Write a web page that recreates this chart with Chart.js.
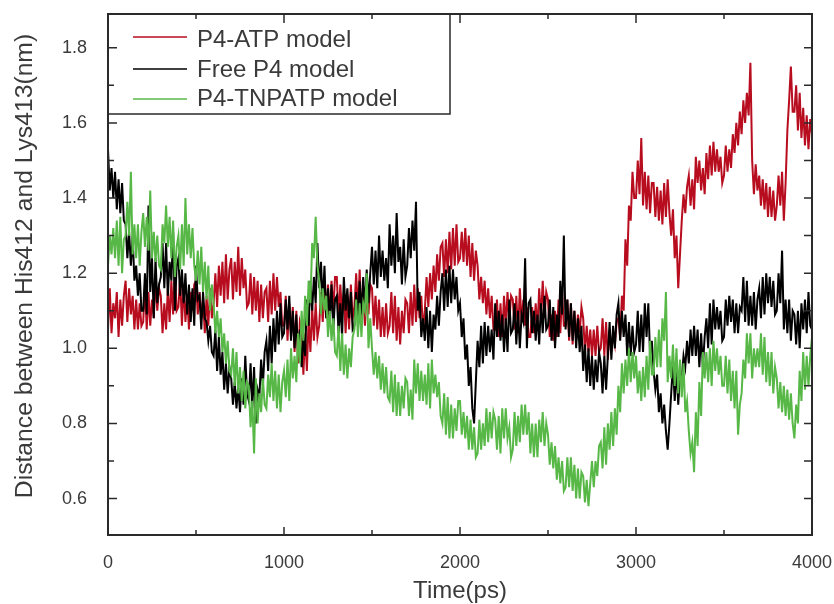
<!DOCTYPE html>
<html>
<head>
<meta charset="utf-8">
<script src="https://cdn.jsdelivr.net/npm/chart.js@4.4.0/dist/chart.umd.min.js"></script>
<style>
html,body{margin:0;padding:0;background:#fff;}
#wrap{width:834px;height:604px;position:relative;}
</style>
</head>
<body>
<div id="wrap"><canvas id="c" width="834" height="604"></canvas></div>
<script>
// ---- data (sampled every 10 ps, 0..4000 ps) ----
const timeStepPs = 10;
const seriesLabels = ['P4-ATP model', 'Free P4 model', 'P4-TNPATP model'];
const seriesColors = ['#b80d1f', '#000000', '#58b847'];

const p4AtpValues = [
1.05,1.16,1.04,1.12,1.08,1.15,1.03,1.13,1.06,1.14,
1.18,1.07,1.16,1.09,1.14,1.05,1.13,1.05,1.12,1.06,
1.07,1.17,1.05,1.15,1.06,1.13,1.08,1.19,1.10,1.16,
1.14,1.04,1.12,1.05,1.16,1.07,1.18,1.09,1.21,1.10,
1.11,1.19,1.06,1.17,1.07,1.14,1.05,1.15,1.10,1.17,
1.18,1.09,1.15,1.08,1.13,1.04,1.14,1.06,1.16,1.08,
1.12,1.20,1.11,1.22,1.14,1.23,1.12,1.25,1.13,1.21,
1.24,1.13,1.23,1.15,1.27,1.14,1.24,1.16,1.21,1.11,
1.12,1.20,1.09,1.19,1.10,1.18,1.07,1.17,1.08,1.15,
1.16,1.07,1.18,1.09,1.20,1.10,1.19,1.11,1.15,1.06,
1.06,1.14,1.02,1.12,1.03,1.11,0.99,1.10,0.96,1.07,
1.05,0.93,1.04,0.94,1.08,0.99,1.11,1.02,1.12,1.03,
1.06,1.15,1.07,1.16,1.08,1.17,1.08,1.18,1.10,1.19,
1.19,1.08,1.17,1.09,1.15,1.04,1.14,1.05,1.17,1.08,
1.11,1.20,1.10,1.21,1.07,1.16,1.06,1.15,1.09,1.17,
1.16,1.06,1.14,1.05,1.13,1.03,1.11,1.03,1.12,1.04,
1.06,1.15,1.04,1.14,1.02,1.11,1.01,1.10,1.04,1.13,
1.12,1.04,1.15,1.06,1.17,1.07,1.16,1.08,1.14,1.05,
1.10,1.19,1.11,1.20,1.13,1.22,1.15,1.25,1.18,1.27,
1.28,1.19,1.29,1.20,1.31,1.21,1.32,1.22,1.33,1.23,
1.24,1.31,1.23,1.32,1.22,1.30,1.19,1.28,1.18,1.26,
1.22,1.13,1.19,1.12,1.18,1.09,1.16,1.08,1.14,1.05,
1.05,1.13,1.03,1.12,1.03,1.14,1.06,1.15,1.07,1.14,
1.13,1.05,1.14,1.04,1.16,1.07,1.13,1.06,1.11,1.03,
1.03,1.11,1.04,1.12,1.05,1.16,1.08,1.18,1.08,1.15,
1.13,1.03,1.09,1.02,1.10,1.03,1.13,1.04,1.15,1.06,
1.06,1.13,1.02,1.12,1.01,1.10,1.02,1.09,1.04,1.11,
1.08,0.99,1.06,0.99,1.05,0.98,1.05,0.98,1.06,0.99,
1.00,1.08,0.98,1.07,0.97,1.05,0.99,1.04,1.01,1.07,
1.08,1.03,1.14,1.10,1.29,1.22,1.38,1.34,1.47,1.40,
1.40,1.50,1.41,1.56,1.38,1.47,1.37,1.46,1.36,1.44,
1.44,1.35,1.43,1.34,1.42,1.33,1.44,1.35,1.45,1.36,
1.30,1.37,1.24,1.30,1.16,1.25,1.34,1.41,1.36,1.43,
1.46,1.38,1.45,1.37,1.51,1.44,1.50,1.42,1.48,1.41,
1.52,1.45,1.54,1.46,1.55,1.47,1.53,1.47,1.51,1.44,
1.46,1.54,1.47,1.53,1.48,1.57,1.52,1.60,1.54,1.63,
1.57,1.66,1.60,1.68,1.62,1.76,1.50,1.41,1.49,1.42,
1.46,1.38,1.45,1.37,1.44,1.35,1.43,1.35,1.42,1.34,
1.38,1.46,1.38,1.47,1.34,1.44,1.58,1.66,1.75,1.63,
1.63,1.70,1.58,1.68,1.56,1.64,1.54,1.62,1.53,1.61,
1.57];

const freeP4Values = [
1.53,1.42,1.48,1.40,1.47,1.37,1.45,1.36,1.44,1.34,
1.33,1.24,1.31,1.22,1.30,1.18,1.22,1.14,1.20,1.10,
1.10,1.20,1.09,1.38,1.15,1.24,1.08,1.24,1.12,1.17,
1.19,1.28,1.16,1.28,1.14,1.23,1.18,1.31,1.10,1.22,
1.24,1.14,1.21,1.12,1.20,1.09,1.17,1.07,1.16,1.06,
1.22,1.13,1.14,1.05,1.15,1.08,1.07,1.02,1.06,0.99,
0.98,1.05,0.94,1.03,0.93,0.99,0.89,0.96,0.88,0.95,
0.92,0.85,0.91,0.84,0.90,0.83,0.92,0.85,0.98,0.88,
0.86,0.96,0.84,0.95,0.80,0.89,0.87,0.97,0.90,0.99,
1.02,0.94,1.06,0.96,1.08,0.99,1.10,1.01,1.12,1.03,
1.04,1.13,1.05,1.14,1.02,1.10,1.00,1.09,0.98,1.05,
0.95,1.03,0.98,1.13,1.06,1.18,1.10,1.19,1.12,1.28,
1.16,1.23,1.12,1.22,1.08,1.16,1.07,1.17,1.05,1.13,
1.14,1.04,1.12,1.03,1.19,1.10,1.16,1.08,1.15,1.05,
1.06,1.15,1.08,1.18,1.09,1.19,1.11,1.21,1.12,1.20,
1.27,1.17,1.26,1.16,1.30,1.19,1.26,1.18,1.24,1.16,
1.33,1.22,1.30,1.20,1.36,1.23,1.27,1.17,1.29,1.19,
1.22,1.32,1.24,1.34,1.26,1.39,1.10,1.15,1.03,1.08,
1.02,1.11,1.00,1.10,0.99,1.09,1.05,1.14,1.06,1.15,
1.20,1.10,1.21,1.11,1.22,1.12,1.21,1.13,1.19,1.10,
1.12,1.03,1.08,0.97,1.01,0.90,0.95,0.84,0.80,0.91,
1.02,0.95,1.06,0.96,1.07,0.98,1.06,0.99,1.05,0.97,
1.12,1.03,1.10,1.02,1.09,0.99,1.08,0.99,1.13,1.04,
1.05,1.12,1.01,1.10,1.00,1.09,1.07,1.24,1.00,1.12,
1.13,1.04,1.10,1.02,1.09,1.01,1.12,1.04,1.14,1.05,
1.06,1.13,1.02,1.11,1.00,1.09,1.03,1.18,1.09,1.30,
1.05,1.13,1.03,1.12,1.02,1.10,1.00,1.08,0.99,1.06,
0.94,1.01,0.91,1.00,0.90,0.98,0.89,0.97,0.91,0.99,
0.96,0.88,0.98,0.89,0.98,1.07,0.97,1.06,1.00,1.09,
1.12,1.02,1.10,1.03,1.09,0.98,1.07,0.98,1.06,0.99,
1.01,1.10,0.99,1.09,0.99,1.12,1.03,1.12,0.98,1.02,
0.94,0.89,0.93,0.83,0.88,0.80,0.85,0.78,0.73,0.80,
0.88,0.96,0.86,0.95,0.85,0.93,0.92,0.98,0.95,1.02,
0.96,1.05,0.98,1.06,0.98,1.05,0.95,1.04,0.95,1.03,
1.08,1.00,1.12,1.01,1.13,1.05,1.11,1.05,1.10,1.02,
1.03,1.13,1.06,1.14,1.07,1.13,1.04,1.12,1.04,1.11,
1.10,1.19,1.07,1.18,1.06,1.14,1.06,1.15,1.05,1.13,
1.16,1.08,1.19,1.09,1.20,1.12,1.19,1.11,1.18,1.09,
1.10,1.20,1.12,1.26,1.05,1.13,1.04,1.13,1.02,1.10,
1.09,1.01,1.10,1.00,1.12,1.05,1.13,1.04,1.15,1.06,
1.05];

const p4TnpatpValues = [
1.22,1.30,1.25,1.32,1.24,1.34,1.22,1.35,1.20,1.29,
1.30,1.39,1.30,1.47,1.25,1.33,1.24,1.33,1.22,1.31,
1.36,1.27,1.35,1.26,1.42,1.24,1.31,1.23,1.30,1.22,
1.21,1.33,1.28,1.38,1.27,1.35,1.24,1.34,1.19,1.27,
1.30,1.21,1.33,1.22,1.40,1.25,1.33,1.24,1.32,1.22,
1.18,1.26,1.17,1.27,1.15,1.23,1.13,1.22,1.10,1.17,
1.12,1.04,1.10,1.03,1.08,0.99,1.04,0.96,1.02,0.94,
0.93,1.00,0.90,0.99,0.88,0.95,0.86,0.94,0.84,0.91,
0.90,0.79,0.86,0.72,0.92,0.80,0.88,0.83,0.92,0.85,
0.84,0.93,0.87,0.96,0.86,0.94,0.84,0.93,0.83,0.91,
0.94,0.87,0.97,0.86,1.00,0.92,0.98,0.91,1.04,0.96,
1.10,1.02,1.14,1.06,1.18,1.12,1.28,1.24,1.35,1.22,
1.18,1.09,1.16,1.10,1.14,1.03,1.10,1.02,1.08,0.99,
0.98,1.06,0.94,1.04,0.93,1.01,0.92,1.00,0.95,1.03,
1.05,1.13,1.03,1.12,1.03,1.12,1.10,1.20,1.00,1.08,
1.00,0.93,0.99,0.92,0.98,0.89,0.96,0.88,0.95,0.87,
0.86,0.94,0.83,0.93,0.82,0.91,0.82,0.90,0.84,0.92,
0.91,0.82,0.89,0.81,0.97,0.88,0.96,0.86,0.94,0.86,
0.93,0.85,0.96,0.84,0.97,0.88,0.93,0.87,0.91,0.82,
0.80,0.88,0.77,0.87,0.76,0.85,0.76,0.84,0.78,0.86,
0.86,0.77,0.83,0.76,0.82,0.73,0.81,0.73,0.79,0.71,
0.72,0.81,0.73,0.80,0.74,0.84,0.75,0.83,0.76,0.83,
0.81,0.73,0.82,0.72,0.84,0.76,0.84,0.76,0.79,0.71,
0.73,0.83,0.74,0.82,0.75,0.85,0.77,0.85,0.77,0.83,
0.72,0.80,0.71,0.80,0.71,0.81,0.75,0.83,0.74,0.80,
0.77,0.69,0.75,0.68,0.74,0.65,0.71,0.64,0.70,0.62,
0.63,0.71,0.63,0.71,0.62,0.69,0.60,0.68,0.60,0.67,
0.66,0.59,0.65,0.58,0.64,0.70,0.63,0.70,0.66,0.74,
0.75,0.68,0.79,0.69,0.80,0.73,0.83,0.74,0.84,0.77,
0.90,0.83,0.96,0.88,0.97,0.90,1.00,0.91,0.99,0.92,
0.98,0.88,0.94,0.86,0.95,0.87,0.98,0.89,1.02,0.93,
0.93,1.03,0.95,1.05,0.95,1.08,1.02,1.15,0.91,0.98,
0.92,1.01,0.90,1.00,0.88,0.97,0.87,0.96,0.83,0.86,
0.78,0.72,0.75,0.67,0.83,0.74,0.91,0.82,0.99,0.92,
0.99,0.91,1.00,0.90,1.02,0.94,1.00,0.93,0.98,0.90,
0.90,0.98,0.88,0.97,0.86,0.94,0.84,0.94,0.77,0.85,
0.88,0.97,0.92,1.04,0.96,1.04,0.92,1.00,0.95,1.00,
0.95,1.04,0.93,1.03,0.91,0.99,0.90,0.99,0.88,0.95,
0.92,0.84,0.91,0.83,0.90,0.82,0.89,0.81,0.88,0.80,
0.76,0.85,0.80,0.94,0.86,0.99,0.89,0.98,0.90,0.98,
1.03];

const xTickValues = [0, 1000, 2000, 3000, 4000];
const xTickLabels = ['0', '1000', '2000', '3000', '4000'];
const xMinorTicks = [500, 1500, 2500, 3500];
const yTickValues = [0.6, 0.8, 1.0, 1.2, 1.4, 1.6, 1.8];
const yTickLabels = ['0.6', '0.8', '1.0', '1.2', '1.4', '1.6', '1.8'];
const yMinorTicks = [0.7, 0.9, 1.1, 1.3, 1.5, 1.7];
const xTitle = 'Time(ps)';
const yTitle = 'Distance between His412 and Lys413(nm)';

// ---- build ----
const allSeries = [p4AtpValues, freeP4Values, p4TnpatpValues];
const datasets = allSeries.map((vals, i) => ({
  label: seriesLabels[i],
  data: vals.map((v, k) => ({ x: k * timeStepPs, y: v })),
  borderColor: seriesColors[i],
  borderWidth: 2,
  pointRadius: 0,
  tension: 0,
  order: 3 - i
}));

const FONT = '"Liberation Sans", Arial, sans-serif';
const frameColor = '#2a2a2a';

function zeroPad(s) { s.paddingTop = 0; s.paddingBottom = 0; s.paddingLeft = 0; s.paddingRight = 0; }

const decor = {
  id: 'decor',
  afterDraw(chart) {
    const ctx = chart.ctx;
    const a = chart.chartArea;
    const xs = chart.scales.x, ys = chart.scales.y;
    ctx.save();
    // legend box
    const lx = a.left, ly = a.top, lw = 342, lh = 100;
    ctx.fillStyle = '#fff';
    ctx.fillRect(lx, ly, lw, lh);
    ctx.strokeStyle = frameColor;
    ctx.lineWidth = 1.5;
    ctx.strokeRect(lx, ly, lw, lh);
    const rowY = [37, 69, 99];
    const baseY = [46.5, 77, 106];
    ctx.font = '24px ' + FONT;
    ctx.textBaseline = 'alphabetic';
    ctx.textAlign = 'left';
    seriesLabels.forEach((lab, i) => {
      ctx.strokeStyle = seriesColors[i];
      ctx.lineWidth = 1.5;
      ctx.beginPath();
      ctx.moveTo(133, rowY[i]);
      ctx.lineTo(187, rowY[i]);
      ctx.stroke();
      ctx.fillStyle = '#3a3a3a';
      ctx.fillText(lab, 197, baseY[i]);
    });
    // frame
    ctx.strokeStyle = frameColor;
    ctx.lineWidth = 2;
    ctx.strokeRect(a.left, a.top, a.right - a.left, a.bottom - a.top);
    // inward ticks
    ctx.lineWidth = 1.5;
    ctx.beginPath();
    yTickValues.forEach(v => {
      const p = ys.getPixelForValue(v);
      ctx.moveTo(a.left, p); ctx.lineTo(a.left + 9, p);
      ctx.moveTo(a.right, p); ctx.lineTo(a.right - 8, p);
    });
    yMinorTicks.forEach(v => {
      const p = ys.getPixelForValue(v);
      ctx.moveTo(a.left, p); ctx.lineTo(a.left + 6, p);
      ctx.moveTo(a.right, p); ctx.lineTo(a.right - 8, p);
    });
    xTickValues.forEach(v => {
      const p = xs.getPixelForValue(v);
      ctx.moveTo(p, a.bottom); ctx.lineTo(p, a.bottom - 8);
      ctx.moveTo(p, a.top); ctx.lineTo(p, a.top + 9);
    });
    xMinorTicks.forEach(v => {
      const p = xs.getPixelForValue(v);
      ctx.moveTo(p, a.bottom); ctx.lineTo(p, a.bottom - 5);
      ctx.moveTo(p, a.top); ctx.lineTo(p, a.top + 5);
    });
    ctx.stroke();
    // axis titles
    ctx.fillStyle = '#3a3a3a';
    ctx.font = '24px ' + FONT;
    ctx.textAlign = 'center';
    ctx.textBaseline = 'alphabetic';
    ctx.fillText(xTitle, (a.left + a.right) / 2, 598);
    ctx.font = '24.7px ' + FONT;
    ctx.translate(32, 266);
    ctx.rotate(-Math.PI / 2);
    ctx.fillText(yTitle, 0, 0);
    ctx.restore();
  }
};

new Chart(document.getElementById('c'), {
  type: 'line',
  data: { datasets },
  options: {
    responsive: false,
    animation: false,
    events: [],
    layout: { padding: { left: 0, right: 22, top: 14, bottom: 0 } },
    plugins: { legend: { display: false }, tooltip: { enabled: false } },
    scales: {
      x: {
        type: 'linear', min: 0, max: 4000,
        grid: { display: false }, border: { display: false },
        afterFit: s => { s.height = 69; zeroPad(s); },
        afterBuildTicks: s => { s.ticks = xTickValues.map(v => ({ value: v })); },
        ticks: {
          padding: 9, color: '#3a3a3a', autoSkip: false, maxRotation: 0,
          font: { size: 18, family: FONT },
          callback: (v) => xTickLabels[xTickValues.indexOf(v)]
        }
      },
      y: {
        type: 'linear', min: 0.503, max: 1.89,
        grid: { display: false }, border: { display: false },
        afterFit: s => { s.width = 108; zeroPad(s); },
        afterBuildTicks: s => { s.ticks = yTickValues.map(v => ({ value: v })); },
        ticks: {
          padding: 13, color: '#3a3a3a', autoSkip: false,
          font: { size: 18, family: FONT },
          callback: (v) => yTickLabels[yTickValues.indexOf(v)]
        }
      }
    }
  },
  plugins: [decor]
});
</script>
</body>
</html>
